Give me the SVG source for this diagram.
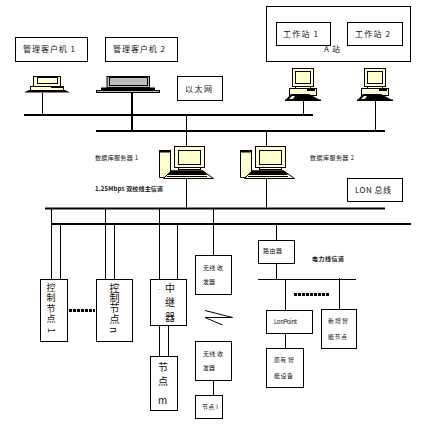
<svg xmlns="http://www.w3.org/2000/svg" xmlns:xlink="http://www.w3.org/1999/xlink" width="426" height="433" viewBox="0 0 426 433">
<style>
text{font-family:"Noto Sans CJK SC","Liberation Sans",sans-serif;fill:#111;font-size:8px}
.b{fill:#fff;stroke:#000;stroke-width:1}
.c{fill:#ffffcc;stroke:#000;stroke-width:1}
.l{stroke:#000;stroke-width:1;fill:none}
.t{stroke:#000;stroke-width:2;fill:none}
.k{fill:#000}
.v{writing-mode:vertical-rl;font-size:10px}
.s{font-size:6px}
.bd{font-weight:700;font-size:6px}
</style>
<defs>
<g id="desk">
<rect class="c" x="0.5" y="0.5" width="21" height="18"/>
<rect class="c" x="3.5" y="3.5" width="15" height="12"/>
<rect class="c" x="3.5" y="18.5" width="15" height="2"/>
<rect class="c" x="-2.5" y="20.5" width="27" height="7"/>
<rect class="k" x="15" y="21" width="8" height="2"/>
<path class="k" d="M-7 32.5L-1 26H17L29 32.5Z"/>
<path d="M-3 31L0 28H3L1 31Z" fill="#ffffcc"/>
<rect class="k" x="-7" y="31.5" width="36" height="1.5"/>
</g>
<g id="server">
<path class="c" d="M.5 4.5H11.5V30L4 31.5H.5Z"/>
<rect class="k" x="0" y="4" width="12" height="2.5"/>
<rect class="c" x="15.5" y=".5" width="30" height="21"/>
<rect class="c" x="19.5" y="4.5" width="22" height="14"/>
<rect class="c" x="19.5" y="21.5" width="22" height="2"/>
<path class="c" d="M4.500 32.500L12 25H44L54.500 32.500Z"/>
<path class="k" d="M12 24.500H44L48 29H8Z"/>
<rect class="k" x="8" y="30" width="40" height="1"/>
</g>
</defs>
<g id="connectors">
<path class="t" d="M24 115H313M96 131H385M45 208.500H385M51 224H411M132 93V131"/>
<path class="l" d="M42.500 93V115M186.500 115V147M266.500 131V147M186.500 178V208M266.500 178V208M303.500 100V115M375.500 100V131"/>
<path class="l" d="M51.500 208V279M60.500 224V279M105.500 208V279M114.500 224V279M159.500 208V279M177.500 224V279M213.500 208V255M276.500 224V240M276.500 263V279M159.500 325V356M168.500 325V356M213.500 380V395M258 279.500H356M285.500 279V310M285.500 333V348M339.500 278V309"/>
<path class="l" d="M205 310.500L232.500 317.500H205L222.500 325"/>
<path d="M69 310.500H95M294 294.500H329" stroke="#000" stroke-width="3" stroke-dasharray="3 1" fill="none"/>
</g>
<g id="client1"><rect class="b" x="15.500" y="37.500" width="72" height="24"/><text x="23" y="52" textLength="52">管理客户机 1</text>
<rect class="c" x="33.500" y="76.500" width="27" height="10"/><rect class="c" x="37.500" y="77.500" width="20" height="6"/><rect class="c" x="30.500" y="86.500" width="33" height="4"/><rect class="k" x="51" y="86" width="13" height="2"/><path class="k" d="M24 92.500L29 90H65L70 92.500Z"/></g>
<g id="client2"><rect class="b" x="105.500" y="37.500" width="72" height="24"/><text x="113" y="52" textLength="52">管理客户机 2</text>
<rect x="107" y="76.500" width="42.500" height="11" fill="#bbb" stroke="#000"/><rect x="109.500" y="77.500" width="38" height="8" fill="#bbb" stroke="#000"/><rect class="k" x="101" y="87.500" width="54" height="3"/><rect x="96.500" y="90.500" width="63" height="2" fill="#bbb" stroke="#000"/></g>
<g id="ethernet"><rect class="b" x="177.500" y="76.500" width="45" height="24"/><text x="185" y="92" textLength="27">以太网</text></g>
<g id="stationA"><rect class="b" x="266.500" y="6.500" width="144" height="55"/><text x="324" y="52" textLength="16">A 站</text></g>
<g id="ws1"><rect class="b" x="276.500" y="22.500" width="54" height="23"/><text x="283" y="37" textLength="35">工作站 1</text></g>
<g id="ws2"><rect class="b" x="347.500" y="22.500" width="55" height="23"/><text x="355" y="37" textLength="35">工作站 2</text></g>
<g id="pc3"><use href="#desk" x="292" y="68"/></g>
<g id="pc4"><use href="#desk" x="364" y="68"/></g>
<g id="db1"><use href="#server" x="159" y="146"/><text class="s" x="95" y="160" textLength="43">数据库服务器 1</text></g>
<g id="db2"><use href="#server" x="240" y="146"/><text class="s" x="310" y="160" textLength="44">数据库服务器 2</text></g>
<text class="bd" x="95" y="191" textLength="68">1.25Mbps 双绞线主信道</text>
<g id="lon"><rect class="b" x="347.500" y="178.500" width="55" height="23"/><text x="355" y="193" font-size="8" textLength="36">LON 总线</text></g>
<g id="control1"><rect class="b" x="40.500" y="279.500" width="27" height="62"/><text class="v" x="51" y="283" textLength="50" style="font-size:9px">控制节点 1</text></g>
<g id="controln"><rect class="b" x="96.500" y="279.500" width="36" height="62"/><text class="v" x="114.500" y="283" textLength="50">控制节点 n</text></g>
<g id="repeater"><rect class="b" x="150.500" y="279.500" width="36" height="46"/><text x="158" y="290" class="s">.</text><text x="165" y="292" style="font-size:10px">中</text><text x="165" y="306" style="font-size:10px">继</text><text x="165" y="321" style="font-size:10px">器</text></g>
<g id="nodem"><rect class="b" x="150.500" y="356.500" width="27" height="54"/><text x="158" y="371" style="font-size:10px">节</text><text x="158" y="385" style="font-size:10px">点</text><text x="158" y="404" style="font-size:10px">m</text></g>
<g id="radio1"><rect class="b" x="195.500" y="255.500" width="36" height="39"/><text class="s" x="203" y="270" textLength="20">无线 收</text><text class="s" x="203" y="284" textLength="12">发器</text></g>
<g id="radio2"><rect class="b" x="195.500" y="341.500" width="36" height="39"/><text class="s" x="203" y="356" textLength="20">无线 收</text><text class="s" x="203" y="370" textLength="12">发器</text></g>
<g id="nodel"><rect class="b" x="195.500" y="395.500" width="27" height="23"/><text class="s" x="202" y="409" textLength="16">节点 l</text></g>
<g id="router"><rect class="b" x="258.500" y="240.500" width="36" height="23"/><text class="s" x="263" y="253" textLength="19">路由器</text></g>
<text class="bd" x="312" y="261" textLength="32">电力线信道</text>
<g id="lonpoint"><rect class="b" x="266.500" y="310.500" width="46" height="23"/><text class="s" x="274" y="324" textLength="23">LonPoint</text></g>
<g id="legacy"><rect class="b" x="266.500" y="348.500" width="37" height="39"/><text class="s" x="274" y="362" textLength="20">原有 智</text><text class="s" x="274" y="378" textLength="19">能设备</text></g>
<g id="newnode"><rect class="b" x="321.500" y="309.500" width="35" height="39"/><text class="s" x="328" y="323" textLength="20">新 增 智</text><text class="s" x="328" y="339" textLength="19">能节点</text></g>
</svg>
